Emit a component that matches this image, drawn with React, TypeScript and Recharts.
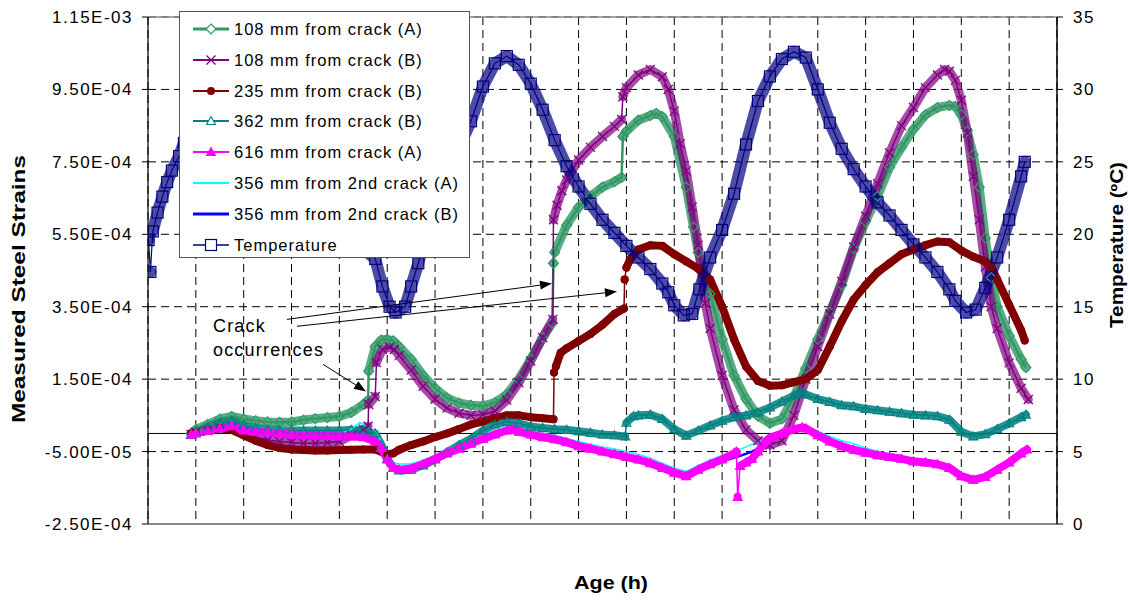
import React from 'react';
import {
  LineChart,
  Line,
  XAxis,
  YAxis,
  CartesianGrid,
  ReferenceLine,
  ReferenceDot,
  Legend,
  Label,
} from 'recharts';

type Pt = [number, number];

// axis ticks
const hourTicks = [0, 4, 8, 12, 16, 20, 24, 28, 32, 36, 40, 44, 48, 52, 56, 60, 64, 68, 72, 76];
const strainTicks = [-2.5e-4, -5e-5, 1.5e-4, 3.5e-4, 5.5e-4, 7.5e-4, 9.5e-4, 1.15e-3];
const tempTicks = [0, 5, 10, 15, 20, 25, 30, 35];

// [age (h), strain (microstrain)]
const strain108A: Pt[] = [
  [3.6, 0], [4, 11], [5, 25], [6, 40], [7, 47], [8, 40], [9, 35], [10, 32], [11, 31], [12, 32],
  [13, 37], [14, 41], [15, 44], [16, 47], [17, 58], [18, 80], [18.4, 92], [18.45, 172], [19, 240],
  [19.5, 258], [20, 260], [20.5, 256], [21, 240], [22, 205], [23, 160], [24, 125], [25, 98],
  [26, 84], [27, 78], [28, 76], [29, 85], [30, 108], [31, 150], [32, 205], [33, 265], [33.8, 305],
  [33.9, 470], [34, 500], [35, 575], [36, 625], [37, 655], [38, 680], [39, 695], [39.6, 707],
  [39.7, 820], [40, 835], [41, 865], [42, 878], [42.5, 884], [43, 875], [44, 820], [45, 680],
  [45.6, 570], [46, 500], [47, 385], [48, 260], [49, 160], [50, 95], [51, 48], [52, 28], [53, 40],
  [54, 100], [55, 180], [56, 260], [57, 335], [58, 410], [59, 510], [60, 585], [61, 655], [62, 735],
  [63, 790], [64, 840], [65, 880], [66, 900], [67, 906], [67.5, 903], [68, 880], [68.5, 835],
  [69, 770], [69.5, 680], [70, 540], [70.5, 430], [71, 350], [72, 270], [73, 205], [73.4, 182],
];

const strain108B: Pt[] = [
  [3.6, -3], [4, 3], [5, 8], [6, 14], [7, 18], [8, 5], [9, -10], [10, -18], [11, -22], [12, -25],
  [13, -27], [14, -27], [15, -25], [16, -22], [17, -5], [18, 12], [18.4, 20], [18.45, 80], [19, 102],
  [19.1, 196], [19.6, 232], [20.2, 238], [20.6, 232], [21, 215], [22, 175], [23, 130], [24, 95],
  [25, 70], [26, 56], [27, 50], [28, 52], [29, 62], [30, 92], [31, 140], [32, 200], [33, 265],
  [33.85, 315], [33.9, 590], [34.2, 630], [34.6, 670], [35, 700], [36, 755], [37, 790], [38, 820],
  [39, 848], [39.6, 867], [39.7, 930], [40, 955], [41, 990], [42, 1005], [43, 985], [43.5, 950],
  [44, 890], [44.5, 800], [45, 725], [45.5, 625], [46, 520], [46.6, 360], [47, 290], [48, 160],
  [49, 65], [50, 10], [51, -20], [52, -32], [53, -20], [54, 50], [55, 150], [56, 240], [57, 330],
  [58, 420], [59, 515], [60, 600], [61, 690], [62, 775], [63, 850], [64, 900], [65, 955], [66, 990],
  [66.6, 1005], [67, 1000], [67.5, 975], [68, 920], [68.5, 830], [69, 710], [69.5, 590], [70, 460],
  [70.5, 350], [71, 290], [72, 195], [73, 125], [73.6, 94],
];

const strain235B: Pt[] = [
  [3.6, 0], [4, 3], [5, 10], [6, 15], [7, 10], [8, -5], [9, -20], [10, -32], [11, -40], [12, -44],
  [13, -46], [14, -47], [15, -47], [16, -46], [17, -45], [18, -44], [19, -44], [20, -58], [20.5, -55],
  [21, -45], [22, -32], [23, -22], [24, -10], [25, 0], [26, 12], [27, 25], [28, 33], [29, 42],
  [30, 50], [31, 50], [32, 45], [33, 42], [33.9, 39], [33.95, 168], [34.1, 185], [34.5, 223],
  [35, 235], [36, 255], [37, 275], [38, 300], [39, 330], [39.8, 345], [39.85, 425], [40, 458],
  [40.3, 480], [41, 508], [42, 520], [43, 518], [44, 495], [45, 475], [46, 455], [47, 425],
  [48, 350], [49, 260], [50, 185], [51, 145], [52, 132], [53, 133], [54, 142], [55, 150], [56, 175],
  [57, 240], [58, 310], [59, 370], [60, 410], [61, 445], [62, 470], [63, 495], [64, 508], [65, 520],
  [66, 530], [67, 528], [68, 505], [69, 488], [70, 475], [70.5, 460], [71, 425], [72, 355],
  [73, 285], [73.3, 257],
];

const strain362B: Pt[] = [
  [3.6, -3], [4, 5], [5, 18], [6, 30], [7, 35], [8, 22], [9, 15], [10, 11], [11, 9], [12, 8],
  [13, 8], [14, 8], [15, 8], [16, 8], [17, 10], [18, 8], [19, 0], [19.5, -30], [20, -70],
  [20.5, -95], [21, -102], [22, -100], [23, -88], [24, -72], [25, -52], [26, -32], [27, -15],
  [28, 8], [29, 25], [30, 32], [31, 28], [32, 19], [33, 15], [34, 12], [35, 10], [36, 6], [37, 2],
  [38, -3], [39, -5], [39.9, -8], [40, 30], [40.6, 48], [41, 50], [42, 52], [43, 40], [44, 12],
  [45, -6], [46, 8], [47, 22], [48, 35], [49, 45], [50, 50], [51, 58], [52, 72], [53, 88],
  [54, 105], [54.7, 113], [55, 108], [56, 95], [57, 87], [58, 78], [59, 75], [60, 68], [61, 64],
  [62, 60], [63, 56], [64, 52], [65, 50], [66, 48], [67, 38], [68, 5], [69, -8], [70, -2],
  [71, 12], [72, 28], [73, 45], [73.4, 52],
];

const strain616A: Pt[] = [
  [3.6, -3], [4, 0], [5, 8], [6, 15], [7, 20], [8, 8], [9, 4], [10, 3], [11, 0], [12, -3],
  [13, -5], [14, -6], [15, -7], [16, -8], [17, -8], [18, -10], [19, -22], [19.5, -40], [20, -72],
  [20.5, -95], [21, -100], [22, -97], [23, -85], [24, -70], [25, -55], [26, -42], [27, -28],
  [28, -15], [29, -3], [30, 8], [30.5, 11], [31, 5], [32, -3], [33, -10], [34, -16], [35, -24],
  [36, -35], [37, -42], [38, -50], [39, -57], [40, -65], [41, -72], [42, -82], [43, -95],
  [44, -108], [45, -118], [46, -100], [47, -85], [48, -72], [49, -55], [49.2, -50], [49.3, -175],
  [49.5, -90], [50, -80], [50.5, -70], [51, -50], [51.7, -20], [52, -12], [53, 0], [54, 12],
  [54.7, 17], [55, 14], [56, -5], [57, -22], [58, -35], [59, -45], [60, -53], [61, -60], [62, -65],
  [63, -70], [64, -77], [65, -80], [66, -85], [67, -95], [68, -118], [69, -128], [70, -120],
  [71, -100], [72, -80], [73, -55], [73.5, -44],
];

const strain356A: Pt[] = [
  [3.6, 0], [4, 3], [5, 10], [6, 17], [7, 22], [8, 12], [9, 7], [10, 5], [11, 3], [12, 0],
  [13, -2], [14, -3], [15, -3], [16, -2], [17, 12], [17.7, 30], [18.5, 15], [19.1, 6], [19.5, -25],
  [20, -68], [20.5, -80], [21, -84], [22, -84], [23, -74], [24, -60], [25, -46], [26, -33],
  [27, -19], [28, -4], [29, 8], [30, 18], [31, 15], [32, 8], [33, 0], [34, -5], [35, -14],
  [36, -22], [37, -30], [38, -37], [39, -43], [40, -50], [41, -58], [42, -68], [43, -82], [44, -95],
  [45, -105], [46, -88], [47, -74], [48, -60], [49, -50], [49.5, -44], [50.5, -30], [51.3, -20],
  [52, -5], [53, 8], [54, 18], [54.7, 22], [55, 20], [56, 6], [57, -8], [58, -20], [59, -28],
  [60, -40], [61, -50], [62, -56], [63, -62], [64, -70], [65, -75], [66, -80], [67, -90],
  [68, -112], [69, -122], [70, -112], [71, -92], [72, -72], [73, -50], [73.5, -40],
];

const strain356B: Pt[] = [
  [3.6, -3], [5, 8], [7, 20], [9, 3], [11, -1], [13, -6], [15, -8], [17, -9], [18, -11], [19, -22],
  [20, -74], [21, -100], [22, -97], [23, -86], [24, -71], [26, -43], [28, -16], [30, 7], [32, -4],
  [34, -17], [36, -36], [38, -51], [40, -66], [42, -83], [44, -109], [45, -119], [46, -101],
  [47, -86], [47.8, -80], [48.5, -72], [49.5, -62], [50.5, -50], [51, -42], [52, -16], [53, -1],
  [54, 11], [55, 11], [56, -9], [58, -36], [60, -54], [62, -66], [64, -78], [66, -86], [67, -96],
  [68, -119], [69, -129], [70, -121], [71, -101], [72, -81], [73, -56], [73.5, -45],
];

// [age (h), temperature (ºC)]
const temperature: Pt[] = [
  [0.05, 19.6], [0.2, 17.4], [0.4, 20.2], [0.8, 21.5], [1.2, 22.6], [1.6, 23.6], [2, 24.4],
  [2.6, 25.4], [3, 26.3], [4, 28.0], [5, 29.2], [6, 29.6], [7, 29.0], [8, 27.6], [9, 26.0],
  [10, 24.7], [11, 23.6], [12, 22.7], [13, 21.9], [14, 21.2], [15, 20.6], [16, 20.0], [17, 19.5],
  [18, 19.0], [19, 18.3], [19.6, 16.4], [20.2, 15.0], [20.7, 14.6], [21.5, 15.0], [22, 16.4],
  [22.6, 18.0], [23, 19.3], [24, 22.0], [25, 24.3], [26, 26.0], [27, 27.8], [28, 30.2], [29, 31.8],
  [30, 32.3], [31, 31.7], [32, 30.4], [33, 28.6], [34, 26.5], [35, 24.7], [36, 23.3], [37, 22.1],
  [38, 21.0], [39, 20.1], [40, 19.2], [41, 18.4], [42, 17.6], [43, 16.6], [43.5, 16.0], [44, 15.1],
  [44.8, 14.4], [45.5, 14.5], [46.1, 16.2], [47, 18.4], [48, 20.3], [49, 22.8], [50, 26.2],
  [51, 29.2], [52, 30.9], [53, 32.1], [54, 32.6], [55, 32.2], [56, 30.0], [57, 27.7], [58, 25.9],
  [59, 24.5], [60, 23.3], [61, 22.2], [62, 21.3], [63, 20.3], [64, 19.3], [65, 18.4], [66, 17.4],
  [67, 16.2], [67.5, 15.4], [68.4, 14.6], [69.2, 14.8], [70, 16.3], [71, 18.4], [72, 21.0],
  [73, 24.0], [73.3, 25.0],
];

type MarkerKind = 'diamond' | 'cross' | 'circle' | 'triangle' | 'triangleFill' | 'square' | 'none';

interface SeriesDef {
  name: string;
  pts: Pt[];
  color: string;
  width: number;
  marker: MarkerKind;
  axis: 'left' | 'right';
  band: number; // width of the marker band (dense logging in the original)
  bandOpacity: number;
}

// legend order
const SERIES: SeriesDef[] = [
  { name: '108 mm from crack (A)', pts: strain108A, color: '#339966', width: 2.5, marker: 'diamond', axis: 'left', band: 9, bandOpacity: 0.8 },
  { name: '108 mm from crack (B)', pts: strain108B, color: '#800080', width: 1.5, marker: 'cross', axis: 'left', band: 9, bandOpacity: 0.7 },
  { name: '235 mm from crack (B)', pts: strain235B, color: '#800000', width: 1.5, marker: 'circle', axis: 'left', band: 8, bandOpacity: 1 },
  { name: '362 mm from crack (B)', pts: strain362B, color: '#008080', width: 1.5, marker: 'triangle', axis: 'left', band: 8, bandOpacity: 0.85 },
  { name: '616 mm from crack (A)', pts: strain616A, color: '#FF00FF', width: 1.5, marker: 'triangleFill', axis: 'left', band: 8, bandOpacity: 1 },
  { name: '356 mm from 2nd crack (A)', pts: strain356A, color: '#00FFFF', width: 1.5, marker: 'none', axis: 'left', band: 0, bandOpacity: 0 },
  { name: '356 mm from 2nd crack (B)', pts: strain356B, color: '#0000FF', width: 2.5, marker: 'none', axis: 'left', band: 0, bandOpacity: 0 },
  { name: 'Temperature', pts: temperature, color: '#000080', width: 1.2, marker: 'square', axis: 'right', band: 12, bandOpacity: 0.7 },
];

// drawing order (later on top)
const DRAW_ORDER = [0, 1, 2, 3, 5, 6, 4, 7];

// annotation arrows, in data units (h, strain)
const arrows = [
  { from: [11.62, 3.15e-4], to: [33.78, 4.14e-4] },
  { from: [12.46, 2.96e-4], to: [39.21, 3.92e-4] },
  { from: [14.63, 1.91e-4], to: [18.23, 1.16e-4] },
];

const fmtStrain = (v: number) => {
  const [m, e] = v.toExponential(2).split('e');
  const n = Number(e);
  return `${m}E${n < 0 ? '-' : '+'}${String(Math.abs(n)).padStart(2, '0')}`;
};

// rows for the band: sudden jumps (readings < 0.25 h apart) stay thin, like the original
const bandRows = (pts: Pt[], scale: number) => {
  const rows: { t: number; v: number | null }[] = [];
  pts.forEach(([t, v], i) => {
    if (i > 0 && t - pts[i - 1][0] < 0.25) rows.push({ t: (t + pts[i - 1][0]) / 2, v: null });
    rows.push({ t, v: v * scale });
  });
  return rows;
};

function Marker({ kind, color, cx, cy, fill }: { kind: MarkerKind; color: string; cx: number; cy: number; fill: string }) {
  switch (kind) {
    case 'diamond':
      return (
        <polygon
          points={`${cx},${cy - 5} ${cx + 5},${cy} ${cx},${cy + 5} ${cx - 5},${cy}`}
          fill={fill}
          stroke={color}
          strokeWidth={1.2}
        />
      );
    case 'cross':
      return (
        <path
          d={`M${cx - 4.5},${cy - 4.5}L${cx + 4.5},${cy + 4.5}M${cx - 4.5},${cy + 4.5}L${cx + 4.5},${cy - 4.5}`}
          stroke={color}
          strokeWidth={1.3}
        />
      );
    case 'circle':
      return <circle cx={cx} cy={cy} r={4} fill={color} />;
    case 'triangle':
    case 'triangleFill':
      return (
        <polygon
          points={`${cx},${cy - 4.5} ${cx + 4.5},${cy + 3.5} ${cx - 4.5},${cy + 3.5}`}
          fill={kind === 'triangleFill' ? color : fill}
          stroke={color}
          strokeWidth={1.1}
        />
      );
    case 'square':
      return <rect x={cx - 5.5} y={cy - 5.5} width={11} height={11} fill={fill} stroke={color} strokeWidth={1.2} />;
    default:
      return null;
  }
}

const makeDot = (s: SeriesDef) => (p: any) => {
  const key = `${s.name}-${p.index}`;
  if (p.cx == null || p.cy == null) return <g key={key} />;
  return (
    <g key={key}>
      <Marker kind={s.marker} color={s.color} cx={p.cx} cy={p.cy} fill="none" />
    </g>
  );
};

const Arrow = (p: any) => {
  const { x1, y1, x2, y2 } = p;
  const a = Math.atan2(y2 - y1, x2 - x1);
  const len = 12;
  const half = 4.5;
  const bx = x2 - len * Math.cos(a);
  const by = y2 - len * Math.sin(a);
  const pts = `${x2},${y2} ${bx - half * Math.sin(a)},${by + half * Math.cos(a)} ${bx + half * Math.sin(a)},${by - half * Math.cos(a)}`;
  return (
    <g>
      <line x1={x1} y1={y1} x2={bx} y2={by} stroke="#000" strokeWidth={1} />
      <polygon points={pts} fill="#000" />
    </g>
  );
};

const LegendBox = () => (
  <div
    style={{
      width: 291,
      height: 247,
      border: '1px solid #555',
      background: '#fff',
      boxSizing: 'border-box',
      position: 'relative',
      fontSize: 16.5,
      letterSpacing: '1px',
      color: '#000',
    }}
  >
    {SERIES.map((s, i) => (
      <div
        key={s.name}
        style={{ position: 'absolute', left: 12, top: 6 + i * 30.8, height: 22, display: 'flex', alignItems: 'center' }}
      >
        <svg width={38} height={22}>
          <line x1={1} y1={11} x2={37} y2={11} stroke={s.color} strokeWidth={s.width + 0.5} />
          <Marker kind={s.marker} color={s.color} cx={19} cy={11} fill="#fff" />
        </svg>
        <span style={{ marginLeft: 4, whiteSpace: 'nowrap', lineHeight: '22px' }}>{s.name}</span>
      </div>
    ))}
  </div>
);

const titleStyle = { fontSize: 18, fontWeight: 700, fill: '#000', letterSpacing: 0 } as const;

export default function App() {
  return (
    <div style={{ position: 'absolute', left: 0, top: 0, fontFamily: '"Liberation Sans", Arial, sans-serif' }}>
      <LineChart width={1130} height={601} margin={{ top: 17, right: 0, bottom: 0, left: 0 }}>
        <CartesianGrid
          xAxisId="x"
          yAxisId="left"
          stroke="#000"
          strokeDasharray="8 5"
          strokeWidth={1}
        />
        <XAxis
          xAxisId="x"
          dataKey="t"
          type="number"
          domain={[0, 76]}
          ticks={hourTicks}
          allowDataOverflow
          height={77}
          tickFormatter={() => ''}
          tickLine={false}
          axisLine={{ stroke: '#8a8a8a', strokeWidth: 2 }}
        >
          <Label
            content={() => (
              <text x={611} y={589} textAnchor="middle" textLength={74} lengthAdjust="spacingAndGlyphs" style={titleStyle}>
                Age (h)
              </text>
            )}
          />
        </XAxis>
        <YAxis
          yAxisId="left"
          type="number"
          domain={[-2.5e-4, 1.15e-3]}
          ticks={strainTicks}
          allowDataOverflow
          width={148}
          tickFormatter={fmtStrain}
          tickSize={6}
          tickMargin={9}
          tick={{ fontSize: 17, fill: '#000', letterSpacing: 1.5 }}
          tickLine={{ stroke: '#000' }}
          axisLine={{ stroke: '#000', strokeWidth: 1.2 }}
        >
          <Label
            content={() => (
              <text
                transform="translate(25,289) rotate(-90)"
                textAnchor="middle"
                textLength={268}
                lengthAdjust="spacingAndGlyphs"
                style={titleStyle}
              >
                Measured Steel Strains
              </text>
            )}
          />
        </YAxis>
        <YAxis
          yAxisId="right"
          orientation="right"
          type="number"
          domain={[0, 35]}
          ticks={tempTicks}
          allowDataOverflow
          width={73}
          tickSize={6}
          tickMargin={10}
          tick={{ fontSize: 17, fill: '#000', letterSpacing: 1.5, textAnchor: 'start' }}
          tickLine={{ stroke: '#000' }}
          axisLine={{ stroke: '#000', strokeWidth: 1.5 }}
        >
          <Label
            content={() => (
              <text
                transform="translate(1123,245) rotate(-90)"
                textAnchor="middle"
                textLength={166}
                lengthAdjust="spacingAndGlyphs"
                style={titleStyle}
              >
                Temperature (ºC)
              </text>
            )}
          />
        </YAxis>

        <ReferenceLine xAxisId="x" yAxisId="left" y={1.15e-3} stroke="#8a8a8a" strokeWidth={1.5} />
        <ReferenceLine xAxisId="x" yAxisId="left" y={0} stroke="#000" strokeWidth={1} />

        {DRAW_ORDER.flatMap((idx) => {
          const s = SERIES[idx];
          const scale = s.axis === 'left' ? 1e-6 : 1;
          const rows = s.pts.map(([t, v]) => ({ t, v: v * scale }));
          const out = [];
          if (s.band > 0) {
            out.push(
              <Line
                key={`${s.name}-band`}
                xAxisId="x"
                yAxisId={s.axis}
                data={bandRows(s.pts, scale)}
                dataKey="v"
                name={`${s.name} band`}
                legendType="none"
                type="linear"
                stroke={s.color}
                strokeOpacity={s.bandOpacity}
                strokeWidth={s.band}
                strokeLinejoin="round"
                strokeLinecap="round"
                dot={false}
                activeDot={false}
                isAnimationActive={false}
              />,
            );
          }
          out.push(
            <Line
              key={s.name}
              xAxisId="x"
              yAxisId={s.axis}
              data={rows}
              dataKey="v"
              name={s.name}
              type="linear"
              stroke={s.color}
              strokeWidth={s.width}
              dot={s.marker === 'none' ? false : makeDot(s)}
              activeDot={false}
              isAnimationActive={false}
            />,
          );
          return out;
        })}

        {arrows.map((a, i) => (
          <ReferenceLine
            key={`arrow-${i}`}
            xAxisId="x"
            yAxisId="left"
            segment={[
              { x: a.from[0], y: a.from[1] },
              { x: a.to[0], y: a.to[1] },
            ]}
            shape={Arrow}
          />
        ))}
        <ReferenceDot
          xAxisId="x"
          yAxisId="left"
          x={5.43}
          y={2.79e-4}
          r={0}
          shape={(p: any) => (
            <text x={p.cx} y={p.cy} fontSize={18} fill="#000" style={{ letterSpacing: '1.2px' }}>
              <tspan x={p.cx}>Crack</tspan>
              <tspan x={p.cx} dy={24}>occurrences</tspan>
            </text>
          )}
        />

        <Legend
          layout="vertical"
          align="center"
          verticalAlign="middle"
          width={291}
          height={247}
          wrapperStyle={{ left: 179, top: 11, width: 291, height: 247 }}
          content={() => <LegendBox />}
        />
      </LineChart>
    </div>
  );
}
